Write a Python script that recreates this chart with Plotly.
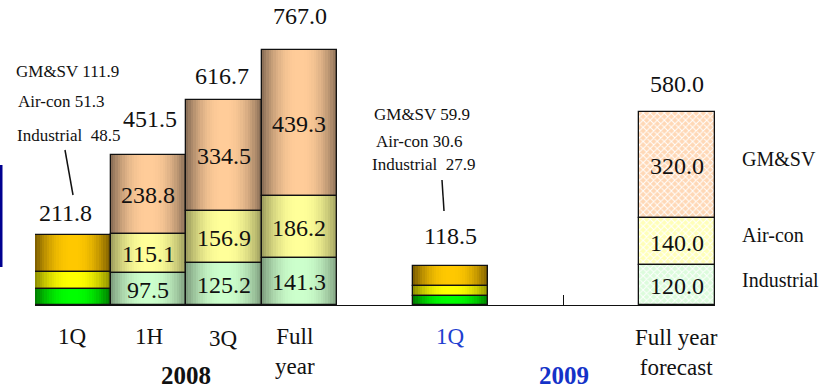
import plotly.graph_objects as go

# ---- data (sales by segment) ----
periods = ["1Q", "1H", "3Q", "Full<br>year", "1Q", "Full year<br>forecast"]
slots = [0, 1, 2, 3, 5, 8]
industrial = [48.5, 97.5, 125.2, 141.3, 27.9, 120.0]
aircon = [51.3, 115.1, 156.9, 186.2, 30.6, 140.0]
gmsv = [111.9, 238.8, 334.5, 439.3, 59.9, 320.0]
totals = [211.8, 451.5, 616.7, 767.0, 118.5, 580.0]
years = ["2008", "2009"]

# bar styling groups (index into the lists above)
bright_idx = [0, 4]      # quarterly actuals with inset breakdown
pastel_idx = [1, 2, 3]   # cumulative actuals
hatched_idx = [5]        # forecast

W, H = 819, 389
ML, MR, MT, MB = 35, 104, 0, 84
PW, PH = W - ML - MR, H - MT - MB
XR = (-0.5, 8.5)
YR = (0, 916)

FONT = "Liberation Serif"

segments = [industrial, aircon, gmsv]
bases = [[0.0] * len(totals), industrial,
         [a + b for a, b in zip(industrial, aircon)]]

# edge -> centre colours for the cylindrical shading
bright_cols = [((0x00, 0x80, 0x00), (0x00, 0xFF, 0x00)),
               ((0x90, 0x90, 0x00), (0xFF, 0xFF, 0x00)),
               ((0x80, 0x60, 0x00), (0xFF, 0xC8, 0x00))]
pastel_cols = [((0x80, 0xA0, 0x80), (0xCC, 0xFF, 0xCC)),
               ((0xA0, 0xA0, 0x60), (0xFF, 0xFF, 0x99)),
               ((0x8C, 0x70, 0x58), (0xFF, 0xCC, 0x99))]
hatch_cols = ["#DCFCDC", "#FFFFB8", "#FFD8B6"]

N = 16


def mix(c0, c1, t):
    return "rgb(%d,%d,%d)" % tuple(round(a + (b - a) * t) for a, b in zip(c0, c1))


fig = go.Figure()


def shaded(idx, cols):
    for s, (edge, centre) in enumerate(cols):
        xs = [slots[i] for i in idx]
        ys = [segments[s][i] for i in idx]
        bs = [bases[s][i] for i in idx]
        for k in range(N):
            t = k / (N - 1)
            f = 1 - (1 - t) ** 2.2
            fig.add_trace(go.Bar(
                x=xs, y=ys, base=bs, width=1 - k / N,
                marker=dict(color=mix(edge, centre, f), line=dict(width=0)),
                hoverinfo="skip", showlegend=False))


shaded(bright_idx, bright_cols)
shaded(pastel_idx, pastel_cols)

# forecast: cross-hatched fill
for s in range(3):
    fig.add_trace(go.Bar(
        x=[slots[i] for i in hatched_idx],
        y=[segments[s][i] for i in hatched_idx],
        base=[bases[s][i] for i in hatched_idx],
        width=1,
        marker=dict(color=hatch_cols[s], line=dict(width=0),
                    pattern=dict(shape="x", fillmode="replace", bgcolor=hatch_cols[s],
                                 fgcolor="white", size=5, solidity=0.35)),
        hoverinfo="skip", showlegend=False))

# outlines
for s in range(3):
    fig.add_trace(go.Bar(
        x=slots, y=segments[s], base=bases[s], width=1,
        marker=dict(color="rgba(0,0,0,0)", line=dict(color="#111111", width=1.3)),
        hoverinfo="skip", showlegend=False))

ann = []


def px_x(px):
    return (px - ML) / PW


def px_y(py):
    return (MT + PH - py) / PH


# totals above bars
lift = [21, 36, 24, 34, 30, 28]
dx = [-7, 2, -2, 1, 0, 0]
for i, tot in enumerate(totals):
    ann.append(dict(x=slots[i], y=tot, xref="x", yref="y", text=f"{tot:.1f}",
                    showarrow=False, yanchor="middle", xshift=dx[i], yshift=lift[i],
                    font=dict(family=FONT, size=24, color="#111111")))

# values inside segments
for i in pastel_idx + hatched_idx:
    for s in range(3):
        mid = bases[s][i] + segments[s][i] / 2
        ann.append(dict(x=slots[i], y=mid, xref="x", yref="y", text=f"{segments[s][i]:.1f}",
                        showarrow=False, yanchor="middle", yshift=-1,
                        font=dict(family=FONT, size=24, color="#111111")))

# inset breakdown for the quarterly bars
inset = {0: [(67, 72), (61, 102), (68, 135)], 4: [(422, 115), (419, 141), (423, 165)]}
for i, pos in inset.items():
    lines = [f"GM&amp;SV {gmsv[i]}", f"Air-con {aircon[i]}", f"Industrial&nbsp; {industrial[i]}"]
    for txt, (px, py) in zip(lines, pos):
        ann.append(dict(x=px_x(px), y=px_y(py), xref="paper", yref="paper", text=txt,
                        showarrow=False, xanchor="center", yanchor="middle",
                        font=dict(family=FONT, size=17, color="#111111")))

# segment names at the right
for name, py in zip(["GM&amp;SV", "Air-con", "Industrial"], [159, 235, 280]):
    ann.append(dict(x=px_x(740), y=px_y(py), xref="paper", yref="paper", text=name,
                    showarrow=False, xanchor="left", yanchor="middle",
                    font=dict(family=FONT, size=20, color="#111111")))

# category labels
label_cols = ["#111111"] * 4 + ["#1F3FD0", "#111111"]
label_shift = [-31, -31, -33, -46, -31, -47]
label_dx = [0, 1, 0, -4, 0, -1]
for i, lab in enumerate(periods):
    ann.append(dict(x=slots[i], y=0, xref="x", yref="paper", text=lab, showarrow=False,
                    yanchor="middle", yshift=label_shift[i], xshift=label_dx[i],
                    font=dict(family=FONT, size=23, color=label_cols[i])))

# year labels (compact box so it stays inside the page)
for yr, xv, col in zip(years, [1.5, 6.5], ["#111111", "#1432C8"]):
    ann.append(dict(x=xv, y=0, xref="x", yref="paper", text=f"<b>{yr}</b>", showarrow=False,
                    yanchor="middle", yshift=-70, height=24, valign="middle",
                    borderpad=0, font=dict(family=FONT, size=25, color=col)))

shapes = [
    dict(type="line", xref="paper", yref="paper", x0=px_x(65), y0=px_y(150),
         x1=px_x(73), y1=px_y(195), line=dict(color="#111111", width=1.5)),
    dict(type="line", xref="paper", yref="paper", x0=px_x(442), y0=px_y(180),
         x1=px_x(444), y1=px_y(211), line=dict(color="#111111", width=1.5)),
    dict(type="rect", xref="paper", yref="paper", x0=px_x(0), y0=px_y(165),
         x1=px_x(2.5), y1=px_y(267), line=dict(width=0), fillcolor="#000090"),
]

fig.update_layout(
    width=W, height=H, margin=dict(l=ML, r=MR, t=MT, b=MB),
    paper_bgcolor="white", plot_bgcolor="white",
    barmode="overlay", bargap=0,
    annotations=ann, shapes=shapes,
    xaxis=dict(range=list(XR), showgrid=False, zeroline=False, showline=True,
               linecolor="#111111", linewidth=1.3, tickvals=[6.5], ticks="inside",
               ticklen=10, tickcolor="#111111", tickwidth=1.3, showticklabels=False),
    yaxis=dict(range=list(YR), visible=False),
    showlegend=False,
)

fig.write_html("out.html")
